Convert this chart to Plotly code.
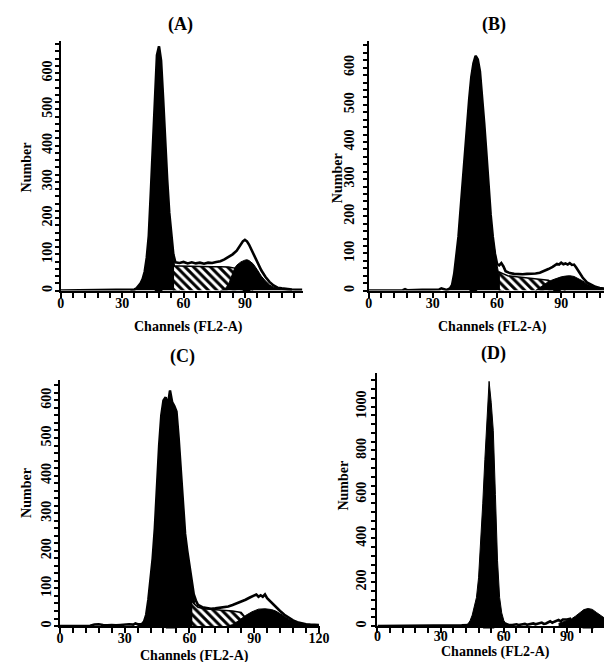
import plotly.graph_objects as go

FONT = "Liberation Serif"

# ---------------- Panel A ----------------
A_G1_CH = [34, 36, 37, 38, 39, 40, 41, 42, 43, 44, 45, 46, 47, 48, 49, 50, 51, 52, 53, 54, 55, 56, 57, 58]
A_G1_N = [0, 2, 6, 12, 20, 32, 52, 90, 150, 270, 410, 560, 650, 674, 635, 530, 410, 305, 215, 150, 95, 50, 18, 0]
A_S_CH = [55, 55, 58, 62, 66, 70, 74, 78, 82, 85, 88, 91, 94]
A_S_N = [0, 68, 68, 67, 67, 67, 66, 66, 65, 62, 45, 20, 0]
A_G2_CH = [78, 80, 82, 84, 85, 86, 88, 90, 91, 92, 94, 96, 98, 100, 102, 104, 106, 108, 110, 113]
A_G2_N = [0, 3, 17, 45, 62, 70, 79, 84, 85, 83, 74, 58, 40, 27, 16, 9, 5, 3, 2, 0]
A_TOT_CH = [0, 20, 30, 34, 36, 37, 38, 39, 40, 41, 42, 43, 44, 45, 46, 47, 48, 49, 50, 51, 52, 53, 54, 55,
            56, 58, 60, 62, 64, 66, 68, 70, 72, 74, 76, 78, 80, 82, 84, 86, 87, 88, 89, 90, 91, 92, 93, 94,
            96, 98, 100, 102, 104, 106, 108, 110, 113, 116, 118]
A_TOT_N = [0, 1, 1, 2, 3, 6, 12, 20, 32, 52, 90, 150, 270, 410, 560, 650, 674, 635, 530, 410, 305, 215, 150, 100,
           78, 76, 79, 75, 78, 75, 77, 74, 77, 76, 79, 81, 86, 92, 100, 110, 120, 128, 136, 140, 136, 127, 115, 103,
           82, 56, 38, 24, 14, 8, 6, 4, 3, 2, 2]
A_MEANS = [47.8, 90.8]

# ---------------- Panel B ----------------
B_G1_CH = [36, 37, 38, 39, 40, 41, 42, 43, 44, 45, 46, 47, 48, 49, 50, 51, 52, 53, 54, 55, 56, 57, 58, 59, 60, 61, 62, 63]
B_G1_N = [2, 3, 6, 15, 45, 95, 145, 220, 300, 370, 440, 515, 575, 612, 632, 622, 590, 525, 450, 370, 285, 205, 145, 100, 68, 40, 15, 0]
B_S_CH = [61, 61, 63, 65, 68, 72, 76, 80, 84, 87, 90, 92]
B_S_N = [0, 50, 45, 40, 38, 36, 34, 31, 28, 16, 5, 0]
B_G2_CH = [78, 80, 82, 84, 86, 88, 90, 92, 94, 96, 98, 100, 102, 104, 106, 108, 110, 113]
B_G2_N = [0, 8, 15, 24, 29, 34, 37, 39, 40, 38, 33, 26, 18, 12, 8, 5, 3, 0]
B_TOT_CH = [0, 10, 16, 17, 18, 25, 30, 33, 34, 35, 36, 37, 38, 39, 40, 41, 42, 43, 44, 45, 46, 47, 48, 49, 50,
            51, 52, 53, 54, 55, 56, 57, 58, 59, 60, 61, 62, 63, 64, 66, 68, 70, 72, 74, 76, 78, 80, 82, 84, 86,
            87, 88, 89, 90, 91, 92, 93, 94, 95, 96, 97, 98, 99, 100, 102, 104, 106, 108, 110, 112]
B_TOT_N = [0, 1, 1, 4, 1, 2, 3, 3, 6, 3, 2, 3, 6, 15, 45, 95, 145, 220, 300, 370, 440, 515, 575, 612, 632,
           622, 590, 525, 450, 370, 285, 205, 145, 100, 72, 68, 74, 65, 52, 47, 45, 44, 44, 45, 45, 46, 48, 52, 58, 64,
           68, 72, 70, 75, 71, 73, 70, 74, 69, 70, 62, 52, 44, 35, 22, 15, 10, 7, 5, 4]
B_MEANS = [48.9, 88.0]

# ---------------- Panel C ----------------
C_G1_CH = [36, 38, 39, 40, 41, 42, 43, 44, 45, 46, 47, 48, 49, 50, 51, 52, 53, 54, 55, 56, 57, 58, 59, 60, 61, 62, 63, 64, 65]
C_G1_N = [3, 5, 12, 30, 70, 125, 180, 260, 390, 480, 560, 600, 608, 585, 626, 595, 585, 570, 500, 410, 330, 245, 200, 160, 110, 70, 40, 12, 0]
C_S_CH = [61, 61, 62, 64, 67, 70, 75, 80, 84, 86, 88, 90]
C_S_N = [0, 70, 60, 50, 46, 44, 42, 40, 36, 22, 8, 0]
C_G2_CH = [78, 80, 83, 86, 89, 92, 95, 98, 100, 102, 104, 106, 108, 110, 112, 115, 118, 120]
C_G2_N = [0, 4, 15, 28, 38, 45, 46, 44, 40, 34, 26, 18, 12, 8, 6, 4, 3, 2]
C_TOT_CH = [0, 12, 14, 16, 18, 20, 22, 24, 26, 28, 30, 32, 34, 35, 36, 37, 38, 39, 40, 41, 42, 43, 44, 45, 46,
            47, 48, 49, 50, 51, 52, 53, 54, 55, 56, 57, 58, 59, 60, 61, 62, 63, 64, 66, 68, 70, 72, 74, 76, 78,
            80, 82, 84, 86, 88, 90, 91, 92, 93, 94, 95, 96, 98, 100, 102, 104, 106, 108, 110, 112, 114, 116, 118, 120]
C_TOT_N = [0, 0, 1, 4, 5, 3, 2, 3, 2, 3, 4, 5, 4, 7, 5, 4, 5, 12, 30, 70, 125, 180, 260, 390, 480,
           560, 600, 608, 585, 626, 595, 585, 570, 500, 410, 330, 245, 200, 160, 115, 85, 68, 56, 50, 48, 46, 47, 48, 49, 52,
           56, 60, 64, 70, 76, 80, 84, 78, 82, 78, 84, 74, 62, 50, 40, 30, 22, 15, 10, 7, 5, 4, 3, 3]
C_MEANS = [51.7]

# ---------------- Panel D ----------------
D_G1_CH = [40, 42, 43, 44, 45, 46, 47, 48, 49, 50, 51, 52, 53, 54, 55, 56, 57, 58, 59, 60, 61, 62, 63]
D_G1_N = [2, 3, 10, 25, 50, 85, 130, 220, 380, 560, 760, 950, 1115, 1020, 890, 600, 300, 130, 60, 25, 10, 5, 3]
D_G2_CH = [86, 88, 90, 92, 94, 96, 98, 100, 102, 104, 106, 108, 110, 112]
D_G2_N = [12, 18, 25, 32, 45, 62, 75, 80, 76, 62, 48, 35, 25, 20]
D_TOT_CH = [0, 10, 20, 30, 36, 40, 61, 62, 64, 66, 67, 68, 70, 71, 72, 74, 75, 76, 78, 79, 80, 82, 83, 84, 86, 87, 88, 90, 92]
D_TOT_N = [0, 1, 1, 2, 3, 3, 10, 6, 5, 8, 5, 7, 10, 6, 9, 12, 8, 11, 16, 10, 12, 22, 15, 20, 28, 22, 30, 30, 34]
D_MEANS = [52.8, 100.0]

# axis tick labels
X_TICKS = [0, 30, 60, 90, 120]
PANEL_TITLES = ["(A)", "(B)", "(C)", "(D)"]
X_TITLE = "Channels (FL2-A)"
Y_TITLE = "Number"

W, H = 612, 662


def px(x):
    return x / W


def py(y):
    return 1 - y / H


fig = go.Figure()

panels = [
    ("x", "y", (A_G1_CH, A_G1_N), (A_S_CH, A_S_N), (A_G2_CH, A_G2_N), (A_TOT_CH, A_TOT_N), A_MEANS),
    ("x2", "y2", (B_G1_CH, B_G1_N), (B_S_CH, B_S_N), (B_G2_CH, B_G2_N), (B_TOT_CH, B_TOT_N), B_MEANS),
    ("x3", "y3", (C_G1_CH, C_G1_N), (C_S_CH, C_S_N), (C_G2_CH, C_G2_N), (C_TOT_CH, C_TOT_N), C_MEANS),
    ("x4", "y4", (D_G1_CH, D_G1_N), None, (D_G2_CH, D_G2_N), (D_TOT_CH, D_TOT_N), D_MEANS),
]

for xa, ya, g1, s, g2, tot, means in panels:
    fig.add_trace(go.Scatter(x=g1[0], y=g1[1], xaxis=xa, yaxis=ya, mode="lines", fill="tozeroy",
                             fillcolor="black", line=dict(color="black", width=1), hoverinfo="skip"))
    if s is not None:
        fig.add_trace(go.Scatter(x=s[0], y=s[1], xaxis=xa, yaxis=ya, mode="lines", fill="tozeroy",
                                 fillcolor="white",
                                 fillpattern=dict(shape="\\", fgcolor="black", bgcolor="white",
                                                  size=6, solidity=0.5, fillmode="replace"),
                                 line=dict(color="black", width=1.5), hoverinfo="skip"))
    fig.add_trace(go.Scatter(x=g2[0], y=g2[1], xaxis=xa, yaxis=ya, mode="lines", fill="tozeroy",
                             fillcolor="black", line=dict(color="black", width=1), hoverinfo="skip"))
    fig.add_trace(go.Scatter(x=tot[0], y=tot[1], xaxis=xa, yaxis=ya, mode="lines",
                             line=dict(color="black", width=2.6), hoverinfo="skip"))
    fig.add_trace(go.Scatter(x=means, y=[0] * len(means), xaxis=xa, yaxis=ya, mode="markers",
                             marker=dict(symbol="triangle-up", size=10, color="black"),
                             cliponaxis=False, hoverinfo="skip"))


def xax(dom, rng, anchor, standoff):
    return dict(domain=dom, range=rng, anchor=anchor, tickmode="array", tickvals=X_TICKS,
                ticks="outside", ticklen=5, tickwidth=1.5, tickcolor="black",
                minor=dict(tickmode="linear", tick0=0, dtick=6, ticks="outside", ticklen=5,
                           tickwidth=1.5, tickcolor="black"),
                showline=True, linewidth=2, linecolor="black", showgrid=False, zeroline=False,
                tickfont=dict(family=FONT, size=14, color="black", weight="bold"),
                ticklabelstandoff=standoff, fixedrange=True)


def yax(dom, rng, anchor, dtick, mdtick, standoff):
    return dict(domain=dom, range=rng, anchor=anchor, tickmode="linear", tick0=0, dtick=dtick,
                ticks="outside", ticklen=4, tickwidth=1.5, tickcolor="black", tickangle=-90,
                minor=dict(tickmode="linear", tick0=0, dtick=mdtick, ticks="outside", ticklen=4,
                           tickwidth=1.5, tickcolor="black"),
                showline=True, linewidth=2, linecolor="black", showgrid=False, zeroline=False,
                tickfont=dict(family=FONT, size=14, color="black", weight="bold"),
                ticklabelstandoff=standoff, fixedrange=True)


fig.update_layout(
    width=W, height=H, margin=dict(l=0, r=0, t=0, b=0),
    paper_bgcolor="white", plot_bgcolor="white", showlegend=False,
    xaxis=xax([px(50), px(298)], [0, 118.5], "y", -6),
    yaxis=yax([py(283), py(33)], [0, 689], "x", 100, 20, -3),
    xaxis2=xax([px(365), 1.0], [0, 112.8], "y2", -6),
    yaxis2=yax([py(283), py(33)], [0, 672], "x2", 100, 20, 3),
    xaxis3=xax([px(49), px(315)], [0, 120.4], "y3", -7),
    yaxis3=yax([py(619), py(373)], [0, 653], "x3", 100, 20, -3),
    xaxis4=xax([px(374), 1.0], [0, 110.4], "y4", -9),
    yaxis4=yax([py(619), py(366)], [0, 1151], "x4", 200, 40, 0),
)

ann = []
title_pos = [(172, 17), (493, 17), (174, 349), (493, 346)]
for t, (x, y) in zip(PANEL_TITLES, title_pos):
    ann.append(dict(text="<b>%s</b>" % t, x=px(x), y=py(y), xref="paper", yref="paper",
                    showarrow=False, xanchor="center", yanchor="middle",
                    font=dict(family=FONT, size=18, color="black")))
xt_pos = [(181, 319), (492, 319), (187, 649), (495, 645)]
for (x, y) in xt_pos:
    ann.append(dict(text="<b>%s</b>" % X_TITLE, x=px(x), y=py(y), xref="paper", yref="paper",
                    showarrow=False, xanchor="center", yanchor="middle",
                    font=dict(family=FONT, size=14, color="black")))
yt_pos = [(15, 160), (333, 170), (15, 486), (339, 478)]
for (x, y) in yt_pos:
    ann.append(dict(text="<b>%s</b>" % Y_TITLE, x=px(x), y=py(y), xref="paper", yref="paper",
                    showarrow=False, xanchor="center", yanchor="middle", textangle=-90,
                    font=dict(family=FONT, size=14, color="black")))
fig.update_layout(annotations=ann)

fig.write_html("out.html")
